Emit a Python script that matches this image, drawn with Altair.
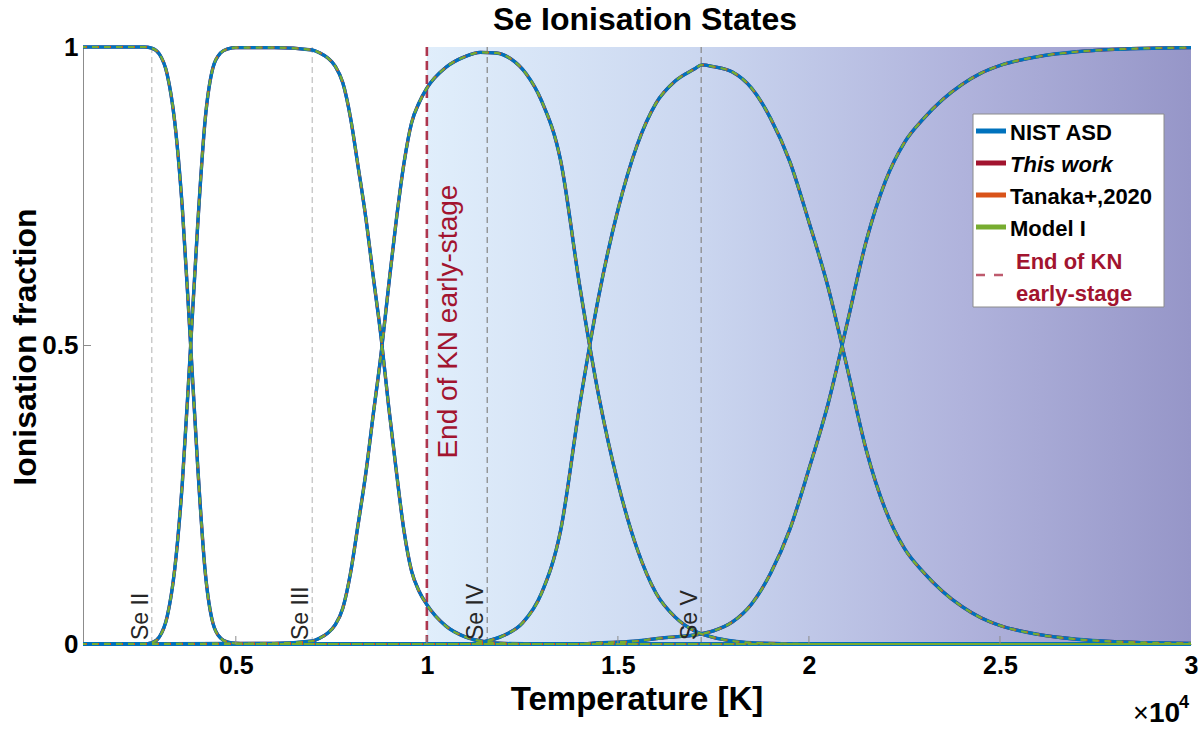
import altair as alt
import pandas as pd

# ---------------- data ----------------
T_SE1 = [1000, 2000, 2600, 2800, 3000, 3200, 3400, 3600, 3800, 4000, 4200, 4400, 4600, 4800, 5000, 5500, 30000]
F_SE1 = [1.0, 1.0, 1.0, 0.998, 0.988, 0.955, 0.875, 0.73, 0.52, 0.30, 0.12, 0.035, 0.01, 0.003, 0.001, 0.0, 0.0]

T_SE2 = [1000, 2600, 2800, 3000, 3200, 3400, 3600, 3800, 4000, 4200, 4400, 4600, 4800, 5000, 6000, 7000,
         7200, 7400, 7600, 7800, 8000, 8200, 8400, 8600, 8800, 9000, 9200, 9400, 9600, 9800, 10000,
         10500, 11000, 11500, 12000, 13000, 30000]
F_SE2 = [0.0, 0.0, 0.002, 0.012, 0.045, 0.125, 0.27, 0.48, 0.70, 0.88, 0.965, 0.99, 0.997, 0.999, 0.999, 0.995,
         0.99, 0.982, 0.968, 0.94, 0.882, 0.80, 0.715, 0.614, 0.515, 0.398, 0.29, 0.19, 0.122, 0.088, 0.066,
         0.03, 0.012, 0.004, 0.001, 0.0, 0.0]

T_SE3 = [1000, 6000, 7000, 7200, 7400, 7600, 7800, 8000, 8200, 8400, 8600, 8800, 9000, 9200, 9400, 9600, 9800,
         10000, 10500, 11000, 11400, 11800, 12200, 12600, 13000, 13500, 14000, 14500, 15000, 15500, 16000,
         16500, 17000, 17500, 18000, 18500, 19000, 20000, 30000]
F_SE3 = [0.0, 0.001, 0.005, 0.01, 0.018, 0.032, 0.06, 0.118, 0.20, 0.285, 0.386, 0.485, 0.60, 0.71, 0.805, 0.873, 0.907,
         0.931, 0.966, 0.984, 0.991, 0.99, 0.98, 0.955, 0.91, 0.81, 0.60, 0.415, 0.27, 0.16, 0.085,
         0.045, 0.022, 0.011, 0.005, 0.002, 0.001, 0.0, 0.0]

T_SE4 = [1000, 11000, 11500, 12000, 12500, 13000, 13500, 14000, 14500, 15000, 15500, 16000, 16500, 17000, 17200,
         17500, 18000, 18500, 19000, 19500, 20000, 20500, 21000, 21500, 22000, 22500, 23000, 23500, 24000,
         24500, 25000, 26000, 27000, 28000, 29000, 30000]
F_SE4 = [0.0, 0.0, 0.004, 0.014, 0.035, 0.085, 0.19, 0.40, 0.583, 0.727, 0.835, 0.906, 0.943, 0.963, 0.97,
         0.967, 0.958, 0.931, 0.88, 0.808, 0.707, 0.598, 0.463, 0.325, 0.225, 0.16, 0.12, 0.088, 0.063,
         0.044, 0.031, 0.016, 0.008, 0.004, 0.002, 0.001]

T_SE5 = [1000, 14000, 14500, 15000, 15500, 16000, 16500, 17000, 17500, 18000, 18500, 19000, 19500, 20000,
         20500, 21000, 21500, 22000, 22500, 23000, 23500, 24000, 24500, 25000, 26000, 27000, 28000, 29000, 30000]
F_SE5 = [0.0, 0.0, 0.002, 0.003, 0.005, 0.009, 0.012, 0.015, 0.022, 0.037, 0.067, 0.119, 0.192, 0.293,
         0.402, 0.537, 0.675, 0.775, 0.84, 0.88, 0.912, 0.937, 0.956, 0.969, 0.984, 0.992, 0.996, 0.998, 0.999]

IONS = ["Se I", "Se II", "Se III", "Se IV", "Se V"]
MODELS = ["NIST ASD", "This work", "Tanaka+,2020", "Model I"]

STATE_LINE_T = [2800, 7000, 11580, 17180]
STATE_LINE_LABELS = ["Se II", "Se III", "Se IV", "Se V"]

KN_END_T = 10000
T_RANGE = [1000, 30000]
X_TICKS = [5000, 10000, 15000, 20000, 25000, 30000]
Y_TICKS = [0, 0.5, 1]

# ---------------- tables ----------------
rows = []
for ion, ts, fs in zip(IONS, [T_SE1, T_SE2, T_SE3, T_SE4, T_SE5], [F_SE1, F_SE2, F_SE3, F_SE4, F_SE5]):
    for t, f in zip(ts, fs):
        rows.append({"T": t, "f": f, "ion": ion})
curves = pd.DataFrame(rows)
state_lines = pd.DataFrame({"T": STATE_LINE_T, "label": STATE_LINE_LABELS})
region = pd.DataFrame({"t0": [KN_END_T], "t1": [T_RANGE[1]]})
kn = pd.DataFrame({"T": [KN_END_T], "f": [0.54], "label": ["End of KN early-stage"]})
one = pd.DataFrame({"a": [0]})

W, H = 1108, 597
FONT = "Liberation Sans"
xs = alt.Scale(domain=T_RANGE, nice=False, zero=False)
ys = alt.Scale(domain=[0, 1], nice=False, zero=False)

x_axis = alt.Axis(values=X_TICKS, labelExpr="format(datum.value / 10000, '~g')", ticks=False, grid=False,
                  domainColor="#8c8c8c", labelFont=FONT, labelFontSize=25, labelFontWeight="bold",
                  labelColor="#000000", labelPadding=9, labelFlush=False, title=None)
y_axis = alt.Axis(values=Y_TICKS, labelExpr="format(datum.value, '~g')", ticks=False, grid=False,
                  domainColor="#8c8c8c", labelFont=FONT, labelFontSize=26, labelFontWeight="bold",
                  labelColor="#000000", labelPadding=5, title=None)

gradient = {"gradient": "linear", "x1": 0, "x2": 1, "y1": 0, "y2": 0,
            "stops": [{"offset": 0, "color": "#e0eefb"}, {"offset": 0.35, "color": "#cbd7f0"},
                      {"offset": 0.7, "color": "#b0b3dc"}, {"offset": 1, "color": "#9696c8"}]}

bg = alt.Chart(region).mark_rect(color=gradient).encode(
    x=alt.X("t0:Q", scale=xs, axis=x_axis), x2="t1:Q", y=alt.value(0), y2=alt.value(H))

vlines = alt.Chart(state_lines).mark_rule(strokeDash=[6, 4], strokeWidth=1.3).encode(
    x=alt.X("T:Q", scale=xs), y=alt.value(0), y2=alt.value(H),
    color=alt.condition("datum.T < 10000", alt.value("#c4c4c4"), alt.value("#8c8c8c")))

knline = alt.Chart(kn).mark_rule(color="#A2142F", opacity=0.85, strokeDash=[9, 5], strokeWidth=2.6).encode(
    x=alt.X("T:Q", scale=xs), y=alt.value(0), y2=alt.value(H))

base = alt.Chart(curves).encode(
    x=alt.X("T:Q", scale=xs),
    y=alt.Y("f:Q", scale=ys, axis=y_axis),
    detail="ion:N")
l_this = base.mark_line(color="#A2142F", strokeWidth=3.2, interpolate="monotone")
l_nist = base.mark_line(color="#0072BD", strokeWidth=3.4, interpolate="monotone")
l_tan = base.mark_line(color="#D95319", strokeWidth=2, strokeDash=[4, 8], interpolate="monotone")
l_mod = base.mark_line(color="#77AC30", strokeWidth=2.2, strokeDash=[6, 6], strokeDashOffset=3,
                       interpolate="monotone")

ticks_x = alt.Chart(pd.DataFrame({"T": X_TICKS[:-1]})).mark_rule(color="#8c8c8c", strokeWidth=1).encode(
    x=alt.X("T:Q", scale=xs), y=alt.value(H), y2=alt.value(H - 8))
ticks_y = alt.Chart(pd.DataFrame({"f": [0.5]})).mark_rule(color="#8c8c8c", strokeWidth=1).encode(
    y=alt.Y("f:Q", scale=ys), x=alt.value(0), x2=alt.value(8))

state_text = alt.Chart(state_lines).mark_text(angle=270, align="left", baseline="alphabetic", dx=4, dy=-4,
                                              font=FONT, fontSize=23, color="#262626").encode(
    x=alt.X("T:Q", scale=xs), y=alt.value(H), text="label:N")

kn_text = alt.Chart(kn).mark_text(angle=270, align="center", baseline="alphabetic", dy=30,
                                  font=FONT, fontSize=28, color="#A2142F").encode(
    x=alt.X("T:Q", scale=xs), y=alt.Y("f:Q", scale=ys), text="label:N")

# ---------------- legend (hand-built, MATLAB style) ----------------
legend_layers = [
    alt.Chart(one).mark_rect(fill="white", stroke="#8c8c8c", strokeWidth=1).encode(
        x=alt.value(890), x2=alt.value(1081), y=alt.value(67), y2=alt.value(260))
]
leg_colors = ["#0072BD", "#A2142F", "#D95319", "#77AC30"]
leg_y = [84, 116, 148, 180]
for name, col, yy in zip(MODELS, leg_colors, leg_y):
    legend_layers.append(alt.Chart(one).mark_rule(color=col, strokeWidth=5).encode(
        x=alt.value(893), x2=alt.value(923), y=alt.value(yy)))
    legend_layers.append(alt.Chart(one).mark_text(
        text=name, align="left", baseline="middle", font=FONT, fontSize=22, fontWeight="bold",
        fontStyle="italic" if name == "This work" else "normal", color="#000000").encode(
        x=alt.value(927), y=alt.value(yy + 2)))
legend_layers.append(alt.Chart(one).mark_rule(color="#A2142F", opacity=0.7, strokeWidth=2.5,
                                              strokeDash=[9, 9]).encode(
    x=alt.value(893), x2=alt.value(923), y=alt.value(228)))
for txt, yy in zip(["End of KN", "early-stage"], [215, 247]):
    legend_layers.append(alt.Chart(one).mark_text(
        text=txt, align="left", baseline="middle", font=FONT, fontSize=22, fontWeight="bold",
        color="#A2142F").encode(x=alt.value(933), y=alt.value(yy)))

# ---------------- titles ----------------
def label(txt, x, y, size, weight="bold", angle=0, align="center", style="normal"):
    kw = dict(text=txt, font=FONT, fontSize=size, fontWeight=weight, color="#000000",
              align=align, baseline="alphabetic", fontStyle=style)
    if angle:
        kw["angle"] = angle
    return alt.Chart(one).mark_text(**kw).encode(x=alt.value(x), y=alt.value(y))

titles = [
    label("Se Ionisation States", 562, -17, 32),
    label("Temperature [K]", 554, 663, 33),
    label("Ionisation fraction", -47, 300, 32, angle=270),
    label("\u00d7", 1058, 675, 27, weight="normal"),
    label("10", 1066, 675, 28, align="left"),
    label("4", 1096, 661, 18, align="left"),
]

chart = alt.layer(
    bg, vlines, knline, l_this, l_nist, l_tan, l_mod, ticks_x, ticks_y, state_text, kn_text,
    *legend_layers, *titles
).properties(
    width=W, height=H,
    autosize=alt.AutoSizeParams(type="none"),
    padding={"left": 83, "top": 47, "right": 9, "bottom": 86},
    background="white",
).configure_view(stroke=None)

chart.save("out.html", embed_options={"renderer": "svg", "actions": False})
